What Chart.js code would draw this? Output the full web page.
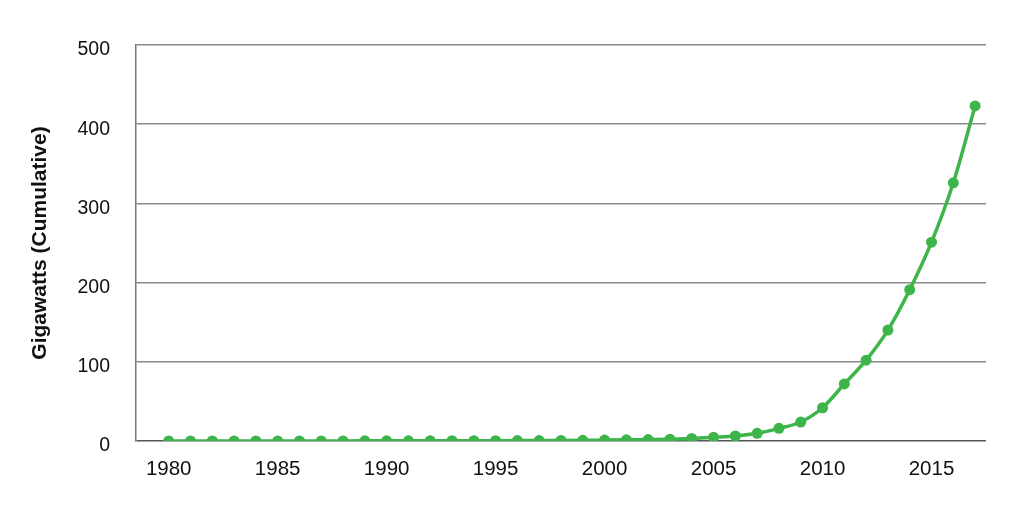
<!DOCTYPE html>
<html>
<head>
<meta charset="utf-8">
<script src="https://cdn.jsdelivr.net/npm/chart.js@4"></script>
<style>
  html, body { margin: 0; padding: 0; background: #fff; }
  #wrap { width: 1024px; height: 510px; }
</style>
</head>
<body>
<div id="wrap"><canvas id="chart"></canvas></div>
<script>
// Jahre und kumulierte Leistung (GW)
var years = [1980, 1981, 1982, 1983, 1984, 1985, 1986, 1987, 1988, 1989,
    1990, 1991, 1992, 1993, 1994, 1995, 1996, 1997, 1998, 1999,
    2000, 2001, 2002, 2003, 2004, 2005, 2006, 2007, 2008, 2009,
    2010, 2011, 2012, 2013, 2014, 2015, 2016, 2017];
var gigawatts = [0.01, 0.02, 0.03, 0.04, 0.05, 0.07, 0.09, 0.11, 0.13, 0.16,
    0.2, 0.25, 0.3, 0.35, 0.4, 0.45, 0.5, 0.6, 0.7, 0.9,
    1.2, 1.5, 1.8, 2.3, 3.2, 4.6, 6.3, 9.7, 16, 24,
    42, 72, 102, 140, 191, 251, 326, 423];
var xTicks = [1980, 1985, 1990, 1995, 2000, 2005, 2010, 2015];
var yTicks = [0, 100, 200, 300, 400, 500];

var punkte = [];
years.forEach((y, i) => {
    punkte.push({ x: y, y: gigawatts[i] });
});

var schrift = "'Liberation Sans', Arial, sans-serif";
var gruen = '#3db54a';

new Chart(document.getElementById("chart"), {
    type: 'line',
    data: {
        datasets: [{
            data: punkte,
            borderColor: gruen,
            backgroundColor: gruen,
            borderWidth: 3.5,
            pointRadius: 5.5,
            pointBorderWidth: 0,
            cubicInterpolationMode: 'monotone',
            fill: false
        }]
    },
    options: {
        responsive: true,
        maintainAspectRatio: false,
        animation: false,
        layout: { padding: { top: 45, right: 38, bottom: 0, left: 0 } },
        plugins: {
            legend: { display: false },
            tooltip: { enabled: false }
        },
        scales: {
            x: {
                type: 'linear',
                min: 1978.5,
                max: 2017.5,
                afterBuildTicks: scale => {
                    scale.ticks = xTicks.map(v => ({ value: v }));
                },
                afterFit: scale => { scale.height = 69; },
                grid: { display: false, drawTicks: false },
                border: { display: false },
                ticks: {
                    padding: 16,
                    maxRotation: 0,
                    color: '#111',
                    font: { family: schrift, size: 20.5 },
                    callback: v => String(v)
                }
            },
            y: {
                min: 0,
                max: 500,
                afterBuildTicks: scale => {
                    scale.ticks = yTicks.map(v => ({ value: v }));
                },
                afterFit: scale => { scale.width = 136; },
                grid: {
                    drawTicks: false,
                    lineWidth: 1.5,
                    color: ctx => ctx.tick && ctx.tick.value == 0 ? '#555' : '#8a8a8a'
                },
                border: { display: true, color: '#777', width: 1.5 },
                ticks: {
                    padding: 26,
                    labelOffset: 5,
                    color: '#111',
                    font: { family: schrift, size: 19.5 }
                },
                title: {
                    display: true,
                    text: 'Gigawatts (Cumulative)',
                    color: '#111',
                    padding: { top: 28, bottom: 0 },
                    font: { family: schrift, size: 21, weight: 'bold' }
                }
            }
        }
    }
});
</script>
</body>
</html>
